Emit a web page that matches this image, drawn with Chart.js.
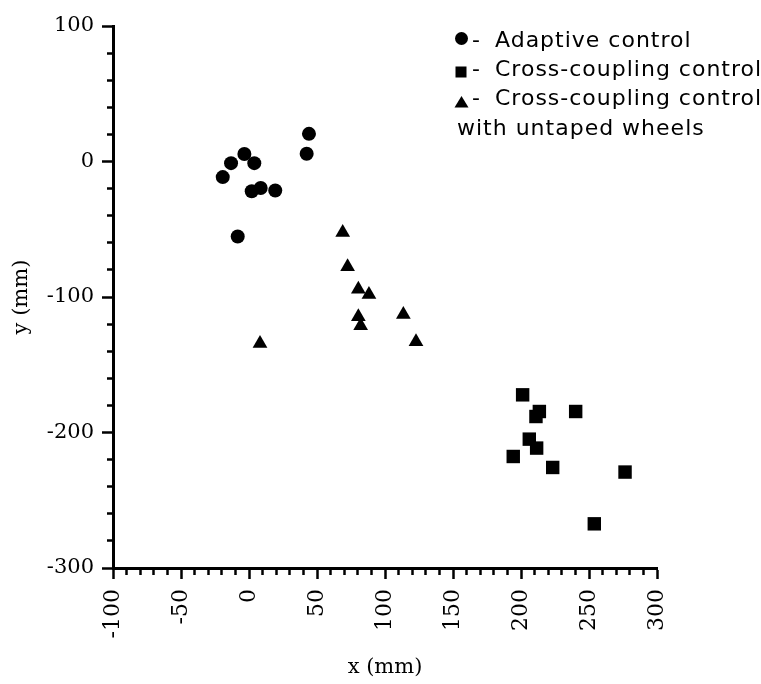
<!DOCTYPE html>
<html>
<head>
<meta charset="utf-8">
<title>x-y scatter</title>
<script src="https://cdn.jsdelivr.net/npm/chart.js"></script>
<style>
    body { margin: 0; background: #fff; }
    canvas { display: block; }
</style>
</head>
<body>
<canvas id="chart" width="761" height="684"></canvas>
<script>
// data (mm)
const adaptiveX = [-19.3, -13.2, -3.4, 3.9, 2.0, 8.6, 19.3, -8.3, 42.4, 44.1];
const adaptiveY = [-11.5, -1.2, 5.5, -1.2, -22.0, -19.6, -21.4, -55.4, 5.7, 20.4];

const crossX = [201.2, 213.5, 211.0, 240.2, 206.1, 211.5, 194.3, 223.3, 276.5, 253.9];
const crossY = [-172.2, -184.5, -188.2, -184.5, -204.9, -211.5, -217.7, -225.8, -229.2, -267.4];

const untapedX = [68.9, 72.5, 80.4, 88.2, 80.4, 82.1, 113.5, 122.8, 8.1];
const untapedY = [-52.4, -77.7, -94.2, -98.2, -114.5, -121.3, -112.9, -133.1, -134.3];

const legendLabels = [
    "Adaptive control",
    "Cross-coupling control",
    "Cross-coupling control",
    "with untaped wheels"
];

function toPoints(xs, ys) {
    return xs.map((x, i) => ({ x: x, y: ys[i] }));
}

const serif = "'DejaVu Serif', 'Liberation Serif', serif";
const sans = "'DejaVu Sans', 'Open Sans', sans-serif";

// minor ticks are drawn shorter with a dash pattern
function xTickDash(ctx) {
    return ctx.tick && ctx.tick.value % 50 === 0 ? [] : [5, 100];
}
function yTickDash(ctx) {
    return ctx.tick && ctx.tick.value % 100 === 0 ? [] : [0, 5, 100, 0];
}

// legend drawn in the top right corner
const legendPlugin = {
    id: "cornerLegend",
    afterDraw(chart) {
        const ctx = chart.ctx;
        ctx.save();
        ctx.fillStyle = "#000";
        ctx.font = "22px " + sans;
        ctx.textBaseline = "alphabetic";
        ctx.letterSpacing = "1px";
        const mx = 461.5;
        const base = [47, 76, 105, 135];

        // circle
        ctx.beginPath();
        ctx.arc(mx, 38.5, 6.5, 0, Math.PI * 2);
        ctx.fill();

        // square
        ctx.fillRect(mx - 6, 66.5, 11, 11);

        // triangle
        ctx.beginPath();
        ctx.moveTo(mx, 96);
        ctx.lineTo(mx + 7, 107.5);
        ctx.lineTo(mx - 7, 107.5);
        ctx.closePath();
        ctx.fill();

        for (let i = 0; i < 3; i++) {
            ctx.fillText("-", 472, base[i]);
            ctx.fillText(legendLabels[i], 495, base[i]);
        }
        ctx.fillText(legendLabels[3], 457, base[3]);
        ctx.restore();
    }
};

new Chart(document.getElementById("chart"), {
    type: "scatter",
    data: {
        datasets: [
            {
                label: "Adaptive control",
                data: toPoints(adaptiveX, adaptiveY),
                pointStyle: "circle",
                pointRadius: 7,
                backgroundColor: "#000",
                borderWidth: 0
            },
            {
                label: "Cross-coupling control",
                data: toPoints(crossX, crossY),
                pointStyle: "rect",
                pointRadius: 9.5,
                backgroundColor: "#000",
                borderWidth: 0
            },
            {
                label: "Cross-coupling control with untaped wheels",
                data: toPoints(untapedX, untapedY),
                pointStyle: "triangle",
                pointRadius: 8.5,
                backgroundColor: "#000",
                borderWidth: 0
            }
        ]
    },
    options: {
        responsive: false,
        animation: false,
        layout: { padding: { top: 26, right: 104, bottom: 0, left: 0 } },
        plugins: {
            legend: { display: false },
            tooltip: { enabled: false }
        },
        scales: {
            x: {
                type: "linear",
                min: -100,
                max: 300,
                afterFit(scale) { scale.height = 116; },
                border: { color: "#000", width: 3 },
                grid: {
                    drawOnChartArea: false,
                    color: "#000",
                    tickColor: "#000",
                    tickLength: 11,
                    tickWidth: 2.5,
                    tickBorderDash: xTickDash
                },
                ticks: {
                    stepSize: 10,
                    autoSkip: false,
                    minRotation: 90,
                    maxRotation: 90,
                    padding: 10,
                    color: "#000",
                    font: { family: serif, size: 22 },
                    callback: v => (v % 50 === 0 ? String(v) : "")
                },
                title: {
                    display: true,
                    text: "x (mm)",
                    color: "#000",
                    font: { family: serif, size: 21 },
                    padding: { top: 0, bottom: 4 }
                }
            },
            y: {
                type: "linear",
                min: -300,
                max: 100,
                afterFit(scale) { scale.width = 113; },
                border: { color: "#000", width: 3 },
                grid: {
                    drawOnChartArea: false,
                    color: "#000",
                    tickColor: "#000",
                    tickLength: 11,
                    tickWidth: 2.5,
                    tickBorderDash: yTickDash
                },
                ticks: {
                    stepSize: 20,
                    autoSkip: false,
                    padding: 8,
                    color: "#000",
                    font: { family: serif, size: 21 },
                    callback: v => (v % 100 === 0 ? String(v) : "")
                },
                title: {
                    display: true,
                    text: "y (mm)",
                    color: "#000",
                    font: { family: serif, size: 21 },
                    padding: { top: 9, bottom: 0 }
                }
            }
        }
    },
    plugins: [legendPlugin]
});
</script>
</body>
</html>
